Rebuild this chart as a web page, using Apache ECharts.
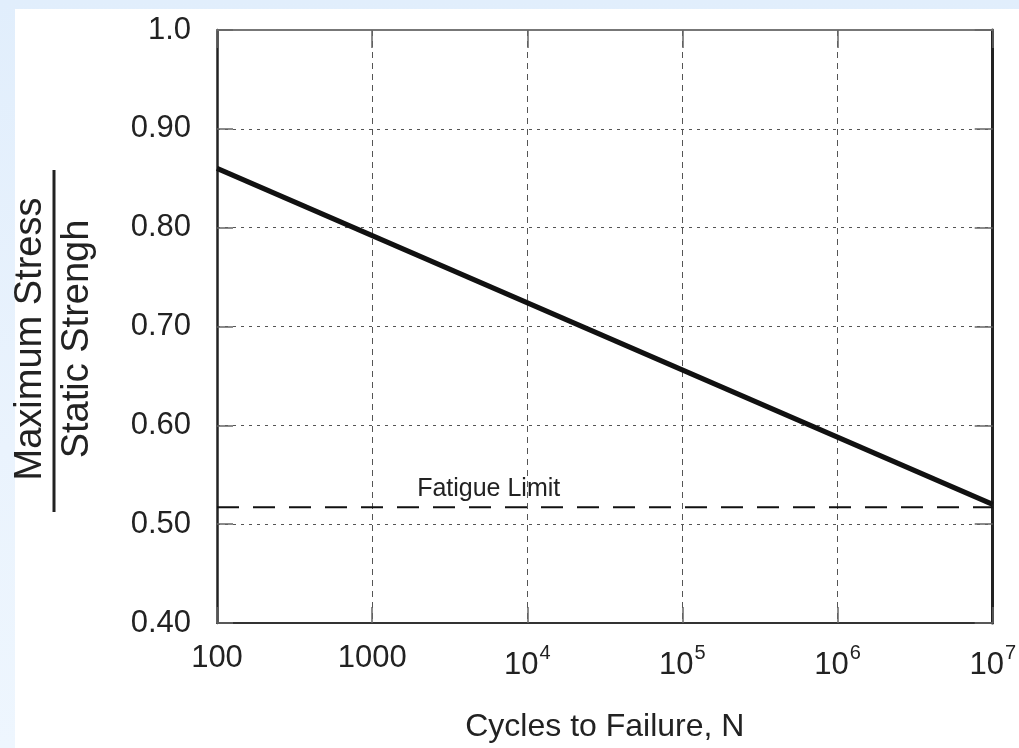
<!DOCTYPE html>
<html>
<head>
<meta charset="utf-8">
<script src="https://cdn.jsdelivr.net/npm/echarts@6/dist/echarts.min.js"></script>
<style>
  html, body { margin: 0; padding: 0; }
  body {
    width: 1019px; height: 748px; overflow: hidden; position: relative;
    background: linear-gradient(180deg, #e1eefc 0%, #eaf3fd 60%, #eef6fe 100%);
  }
  #panel { position: absolute; left: 15px; top: 9px; right: 0; bottom: 0; background: #ffffff; }
  #chart { position: absolute; left: 0; top: 0; width: 1019px; height: 748px; }
</style>
</head>
<body>
<div id="panel"></div>
<div id="chart"></div>
<script>
// S-N curve: ratio of maximum stress to static strength vs. cycles to failure
const cycles = [100, 10000000];
const stressRatio = [0.86, 0.52];
const fatigueLimit = 0.517;
const fatigueLabel = 'Fatigue Limit';
const fatigueLabelAt = 1950;           // cycles where the annotation starts
const yTicks = [0.4, 0.5, 0.6, 0.7, 0.8, 0.9, 1.0];
const xTitle = 'Cycles to Failure, N';
const yTitleTop = 'Maximum Stress';
const yTitleBottom = 'Static Strengh';

const FONT = '"Liberation Sans", Arial, Helvetica, sans-serif';
const INK = '#222';

const chart = echarts.init(document.getElementById('chart'), null, { renderer: 'canvas' });

function xLabel(v) {
  const e = Math.round(Math.log10(v));
  if (e <= 3) return String(Math.round(v));
  return '{b|10}{s|' + e + '}';
}

const gridLineX = { show: true, lineStyle: { color: '#555', width: 1, type: [6, 5] } };
const gridLineY = { show: true, lineStyle: { color: '#555', width: 1, type: [3, 5] } };

chart.setOption({
  animation: false,
  textStyle: { fontFamily: FONT, color: INK },
  grid: { left: 217, top: 30, right: 26, bottom: 122, containLabel: false },
  xAxis: [
    {
      type: 'log', logBase: 10, min: 100, max: 10000000,
      position: 'bottom',
      axisLine: { lineStyle: { color: '#333', width: 2 } },
      axisTick: { inside: true, length: 16, lineStyle: { color: '#666', width: 1.5 } },
      minorTick: { show: false },
      splitLine: gridLineX,
      axisLabel: {
        margin: 20, fontSize: 31, color: INK, fontFamily: FONT,
        formatter: xLabel,
        rich: {
          b: { fontSize: 31, fontFamily: FONT, color: INK },
          s: { fontSize: 20, fontFamily: FONT, color: INK, padding: [0, 0, 24, 1] }
        }
      },
      name: xTitle, nameLocation: 'middle', nameGap: 88,
      nameTextStyle: { fontSize: 32, color: INK, fontFamily: FONT }
    },
    {
      type: 'log', logBase: 10, min: 100, max: 10000000,
      position: 'top',
      axisLine: { lineStyle: { color: '#777', width: 2 } },
      axisTick: { inside: true, length: 18, lineStyle: { color: '#666', width: 1.5 } },
      axisLabel: { show: false },
      splitLine: { show: false }
    }
  ],
  yAxis: [
    {
      type: 'value', min: 0.4, max: 1.0, interval: 0.1,
      position: 'left',
      axisLine: { show: true, lineStyle: { color: '#222', width: 2.5 } },
      axisTick: { show: true, inside: true, length: 16, lineStyle: { color: '#666', width: 1.5 } },
      splitLine: gridLineY,
      axisLabel: {
        margin: 26, fontSize: 31, color: INK, fontFamily: FONT,
        formatter: function (v) {
          const t = yTicks.find(k => Math.abs(k - v) < 1e-9);
          if (t === undefined) return '';
          return t === 1 ? '1.0' : t.toFixed(2);
        }
      }
    },
    {
      type: 'value', min: 0.4, max: 1.0, interval: 0.1,
      position: 'right',
      axisLine: { show: true, lineStyle: { color: '#222', width: 3 } },
      axisTick: { show: true, inside: true, length: 18, lineStyle: { color: '#666', width: 1.5 } },
      axisLabel: { show: false },
      splitLine: { show: false }
    }
  ],
  series: [
    {
      name: 'Fatigue limit', type: 'line', xAxisIndex: 0, yAxisIndex: 0,
      data: [[cycles[0], fatigueLimit], [cycles[cycles.length - 1], fatigueLimit]],
      symbol: 'none', silent: true,
      lineStyle: { color: '#111', width: 2, type: [22, 14] },
      z: 3
    },
    {
      name: 'S-N curve', type: 'line', xAxisIndex: 0, yAxisIndex: 0,
      data: cycles.map((c, i) => [c, stressRatio[i]]),
      symbol: 'none', silent: true,
      lineStyle: { color: '#111', width: 5, cap: 'butt' },
      z: 4
    }
  ]
});

// annotations: fatigue-limit label and the fraction-style y-axis title
const labelPos = chart.convertToPixel({ xAxisIndex: 0, yAxisIndex: 0 }, [fatigueLabelAt, fatigueLimit]);
const titleMidY = 339;

chart.setOption({
  graphic: [
    {
      type: 'text', x: labelPos[0], y: labelPos[1] - 6,
      style: { text: fatigueLabel, font: '25px ' + FONT, fill: INK, align: 'left', verticalAlign: 'bottom' },
      z: 10
    },
    {
      type: 'text', x: 31, y: titleMidY, rotation: Math.PI / 2,
      style: { text: yTitleTop, font: '38px ' + FONT, fill: INK, align: 'center', verticalAlign: 'middle' }
    },
    {
      type: 'line', shape: { x1: 54, y1: 170, x2: 54, y2: 512 },
      style: { stroke: '#222', lineWidth: 3 }
    },
    {
      type: 'text', x: 78, y: titleMidY, rotation: Math.PI / 2,
      style: { text: yTitleBottom, font: '38px ' + FONT, fill: INK, align: 'center', verticalAlign: 'middle' }
    }
  ]
});
</script>
</body>
</html>
